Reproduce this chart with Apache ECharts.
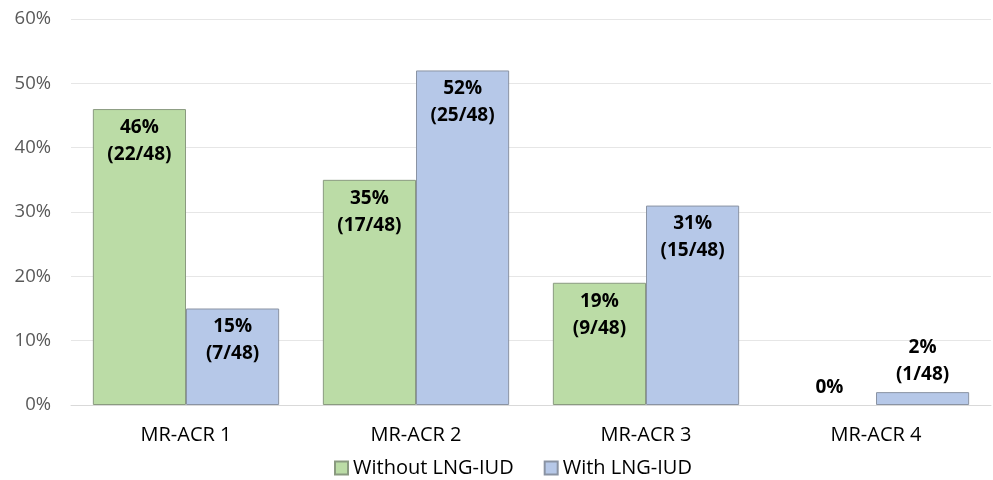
<!DOCTYPE html>
<html>
<head>
<meta charset="utf-8">
<script src="https://cdn.jsdelivr.net/npm/echarts@6/dist/echarts.min.js"></script>
<style>html,body{margin:0;padding:0;background:#fff;}#c{width:993px;height:480px;}</style>
</head>
<body>
<div id="c"></div>
<script>
const categories = ['MR-ACR 1', 'MR-ACR 2', 'MR-ACR 3', 'MR-ACR 4'];
const withoutPct = [46, 35, 19, 0];
const withPct = [15, 52, 31, 2];
const withoutCount = [22, 17, 9, 0];
const withCount = [7, 25, 15, 1];
const total = 48;
const yTicks = [0, 10, 20, 30, 40, 50, 60];

const FONT = '"Open Sans", "Noto Sans", sans-serif';

function labelFor(pcts, counts) {
  return function (p) {
    if (pcts[p.dataIndex] === 0) return pcts[p.dataIndex] + '%';
    return pcts[p.dataIndex] + '%\n(' + counts[p.dataIndex] + '/' + total + ')';
  };
}
function dataFor(pcts) {
  return pcts.map(function (v) {
    const inside = v >= 10;
    const item = {
      value: v,
      label: {
        position: inside ? 'insideTop' : 'top',
        distance: inside ? 5 : 4
      }
    };
    if (v === 0) item.itemStyle = { borderWidth: 0 };
    return item;
  });
}

const chart = echarts.init(document.getElementById('c'));
chart.setOption({
  animation: false,
  textStyle: { fontFamily: FONT },
  grid: { left: 71, right: 2, top: 19, bottom: 75, containLabel: false },
  legend: {
    top: 453,
    left: 329,
    itemWidth: 13,
    itemHeight: 13,
    itemGap: 30,
    icon: 'rect',
    textStyle: { fontSize: 20, color: '#000', fontFamily: FONT },
    data: ['Without LNG-IUD', 'With LNG-IUD']
  },
  xAxis: {
    type: 'category',
    data: categories,
    axisTick: { show: false },
    axisLine: { lineStyle: { color: '#d9d9d9' } },
    axisLabel: { fontSize: 20, color: '#000', margin: 20, fontFamily: FONT }
  },
  yAxis: {
    type: 'value',
    min: yTicks[0],
    max: yTicks[yTicks.length - 1],
    interval: 10,
    axisLine: { show: false },
    axisTick: { show: false },
    splitLine: { lineStyle: { color: '#e6e6e6' } },
    axisLabel: { fontSize: 18.5, color: '#595959', margin: 20, formatter: '{value}%', fontFamily: FONT }
  },
  series: [
    {
      name: 'Without LNG-IUD',
      type: 'bar',
      barGap: '0%',
      barCategoryGap: '19%',
      data: dataFor(withoutPct),
      itemStyle: { color: '#bbdca6', borderColor: '#8a9a80', borderWidth: 1 },
      label: {
        show: true,
        formatter: labelFor(withoutPct, withoutCount),
        fontSize: 19,
        fontWeight: 'bold',
        color: '#000',
        lineHeight: 27,
        fontFamily: FONT
      }
    },
    {
      name: 'With LNG-IUD',
      type: 'bar',
      data: dataFor(withPct),
      itemStyle: { color: '#b6c8e8', borderColor: '#8a93a3', borderWidth: 1 },
      label: {
        show: true,
        formatter: labelFor(withPct, withCount),
        fontSize: 19,
        fontWeight: 'bold',
        color: '#000',
        lineHeight: 27,
        fontFamily: FONT
      }
    }
  ]
});
</script>
</body>
</html>
